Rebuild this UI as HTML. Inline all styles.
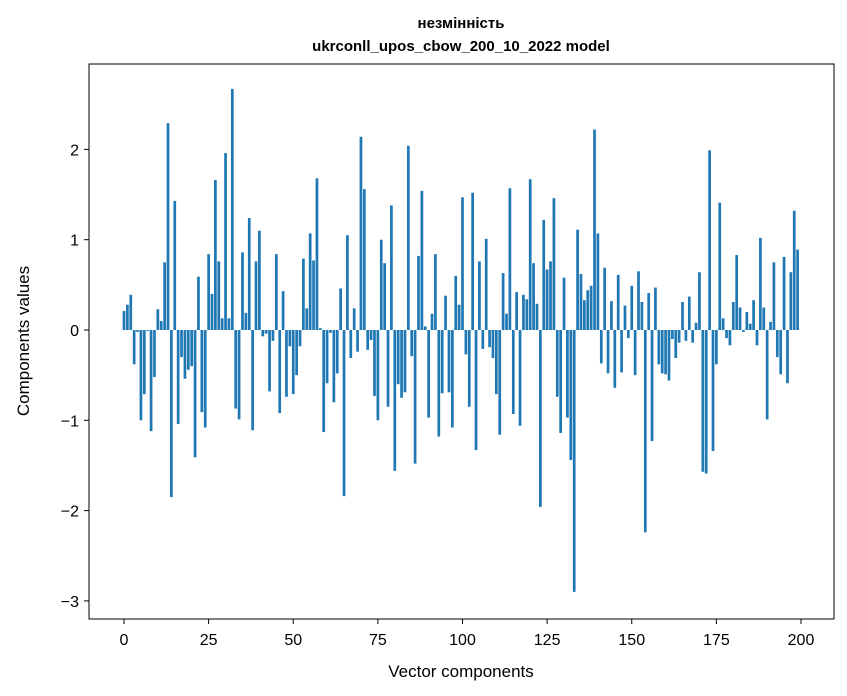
<!DOCTYPE html>
<html><head><meta charset="utf-8"><style>
body{margin:0;background:#fff;}
svg{display:block;font-family:"Liberation Sans","DejaVu Sans",sans-serif;}
</style></head><body>
<svg id="chart" width="847" height="696">
<text x="461" y="28" text-anchor="middle" font-size="15" font-weight="bold">незмінність</text>
<text x="461" y="51" text-anchor="middle" font-size="15" font-weight="bold">ukrconll_upos_cbow_200_10_2022 model</text>
<g id="bars"></g>
<rect x="89" y="64" width="745" height="555" fill="none" stroke="#000" stroke-width="1"/>
<g id="xticks"></g>
<g id="yticks"></g>
<text x="461" y="677" text-anchor="middle" font-size="17">Vector components</text>
<text transform="translate(29,341) rotate(-90)" text-anchor="middle" font-size="17">Components values</text>
</svg>
<script>
const values = [0.21,0.28,0.39,-0.38,-0.02,-1.0,-0.71,-0.01,-1.12,-0.52,
0.23,0.10,0.75,2.29,-1.85,1.43,-1.04,-0.30,-0.54,-0.44,
-0.40,-1.41,0.59,-0.91,-1.08,0.84,0.40,1.66,0.76,0.13,
1.96,0.13,2.67,-0.87,-0.99,0.86,0.19,1.24,-1.11,0.76,
1.10,-0.07,-0.04,-0.68,-0.12,0.84,-0.92,0.43,-0.74,-0.18,
-0.71,-0.50,-0.18,0.79,0.24,1.07,0.77,1.68,0.02,-1.13,
-0.59,-0.03,-0.80,-0.48,0.46,-1.84,1.05,-0.31,0.24,-0.24,
2.14,1.56,-0.22,-0.11,-0.73,-1.0,1.0,0.74,-0.85,1.38,
-1.56,-0.60,-0.75,-0.69,2.04,-0.29,-1.48,0.82,1.54,0.04,
-0.97,0.18,0.84,-1.18,-0.70,0.38,-0.69,-1.08,0.60,0.28,
1.47,-0.27,-0.85,1.52,-1.33,0.76,-0.21,1.01,-0.19,-0.31,
-0.71,-1.16,0.63,0.18,1.57,-0.93,0.42,-1.06,0.39,0.34,
1.67,0.74,0.29,-1.96,1.22,0.67,0.76,1.46,-0.74,-1.14,
0.58,-0.97,-1.44,-2.90,1.11,0.62,0.33,0.44,0.49,2.22,
1.07,-0.37,0.69,-0.48,0.32,-0.64,0.61,-0.47,0.27,-0.09,
0.49,-0.50,0.65,0.31,-2.24,0.41,-1.23,0.47,-0.38,-0.48,
-0.49,-0.56,-0.10,-0.31,-0.14,0.31,-0.12,0.37,-0.14,0.08,
0.64,-1.57,-1.59,1.99,-1.34,-0.38,1.41,0.13,-0.09,-0.17,
0.31,0.83,0.25,-0.02,0.20,0.07,0.33,-0.17,1.02,0.25,
-0.99,0.09,0.75,-0.30,-0.49,0.81,-0.59,0.64,1.32,0.89];
const xTickValues = [0,25,50,75,100,125,150,175,200];
const yTickValues = [-3,-2,-1,0,1,2];
const NS='http://www.w3.org/2000/svg';
const X0=124, XS=3.385, Y0=330, YS=90.3;
function xs(v){return X0+v*XS;}
function ys(v){return Y0-v*YS;}
const bars=document.getElementById('bars');
values.forEach((v,i)=>{
  const r=document.createElementNS(NS,'rect');
  const y1=ys(Math.max(v,0)), y2=ys(Math.min(v,0));
  r.setAttribute('x',xs(i-0.4));
  r.setAttribute('width',0.8*XS);
  r.setAttribute('y',y1);
  r.setAttribute('height',Math.max(y2-y1,0.3));
  r.setAttribute('fill','#1f77b4');
  
  
  bars.appendChild(r);
});
const xt=document.getElementById('xticks');
xTickValues.forEach(t=>{
  const l=document.createElementNS(NS,'line');
  l.setAttribute('x1',xs(t));l.setAttribute('x2',xs(t));
  l.setAttribute('y1',619);l.setAttribute('y2',624);
  l.setAttribute('stroke','#000');
  
  
  xt.appendChild(l);
  const tx=document.createElementNS(NS,'text');
  tx.setAttribute('x',xs(t));tx.setAttribute('y',645);
  tx.setAttribute('text-anchor','middle');tx.setAttribute('font-size','16');
  tx.textContent=t;
  
  
  xt.appendChild(tx);
});
const yt=document.getElementById('yticks');
yTickValues.forEach(t=>{
  const l=document.createElementNS(NS,'line');
  l.setAttribute('x1',84);l.setAttribute('x2',89);
  l.setAttribute('y1',ys(t));l.setAttribute('y2',ys(t));
  l.setAttribute('stroke','#000');
  
  
  yt.appendChild(l);
  const tx=document.createElementNS(NS,'text');
  tx.setAttribute('x',79);tx.setAttribute('y',ys(t)+6);
  tx.setAttribute('text-anchor','end');tx.setAttribute('font-size','16');
  tx.textContent=t<0?'\u2212'+Math.abs(t):String(t);
  
  
  yt.appendChild(tx);
});
</script>
</body></html>
